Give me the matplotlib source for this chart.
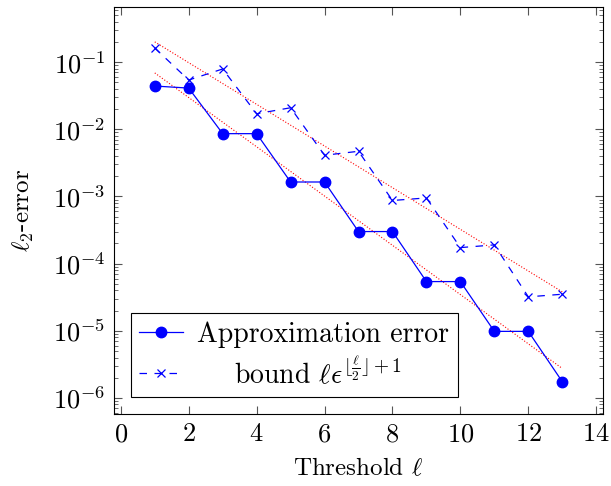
import numpy as np
import matplotlib
matplotlib.use("Agg")
import matplotlib.pyplot as plt

plt.rcParams['font.family'] = 'serif'
plt.rcParams['font.serif'] = ['cmr10']
plt.rcParams['mathtext.fontset'] = 'cm'
plt.rcParams['axes.formatter.use_mathtext'] = True

# values
thresholds = [1, 2, 3, 4, 5, 6, 7, 8, 9, 10, 11, 12, 13]
approx_error = [0.044, 0.041, 0.0086, 0.0086, 0.00164, 0.00164, 3.0e-4, 3.0e-4,
                5.4e-5, 5.4e-5, 9.8e-6, 9.8e-6, 1.75e-6]
bound = [0.162, 0.054, 0.079, 0.017, 0.0209, 0.0041, 0.0047, 8.7e-4,
         9.5e-4, 1.73e-4, 1.9e-4, 3.2e-5, 3.5e-5]

# dotted trend lines (end points)
trend_x = [1, 13]
trend_upper = [0.2, 3.8e-5]
trend_lower = [0.069, 2.75e-6]

fig = plt.figure(figsize=(6.11, 4.86), dpi=100)
ax = fig.add_axes([0.1866, 0.148, 0.8003, 0.8376])

ax.plot(trend_x, trend_upper, color='red', linestyle=':', linewidth=0.8)
ax.plot(trend_x, trend_lower, color='red', linestyle=':', linewidth=0.8)
ax.plot(thresholds, approx_error, color='blue', linewidth=0.9, marker='o',
        markersize=7.5, label='Approximation error')
ax.plot(thresholds, bound, color='blue', linewidth=0.9, dashes=(6, 6), marker='x',
        markersize=6, markeredgewidth=0.9,
        label=r'    bound $\ell\epsilon^{\lfloor\frac{\ell}{2}\rfloor+1}$')

ax.set_yscale('log')
ax.set_xlim(-0.2, 14.2)
ax.set_ylim(10 ** -6.24, 10 ** -0.18)
ax.set_xticks(range(0, 15, 2))
ax.set_yticks([1e-6, 1e-5, 1e-4, 1e-3, 1e-2, 1e-1])

ax.tick_params(which='both', direction='in', top=True, right=True,
               labelsize=19, color='#555555')
ax.tick_params(which='major', length=5.5, width=0.8, pad=6)
ax.tick_params(which='minor', length=3, width=0.6)
ax.tick_params(axis='x', which='minor', bottom=False, top=False)

ax.set_xlabel(r'Threshold $\ell$', fontsize=18, labelpad=8)
ax.set_ylabel(r'$\ell_2$-error', fontsize=18, labelpad=12)

leg = ax.legend(loc='lower left', fontsize=20, frameon=True, fancybox=False,
                edgecolor='black', framealpha=1, borderaxespad=0.6,
                handlelength=1.6, handletextpad=0.5, borderpad=0.3,
                labelspacing=0.3)
leg.get_frame().set_linewidth(0.8)

plt.savefig('out.png', dpi=100)
